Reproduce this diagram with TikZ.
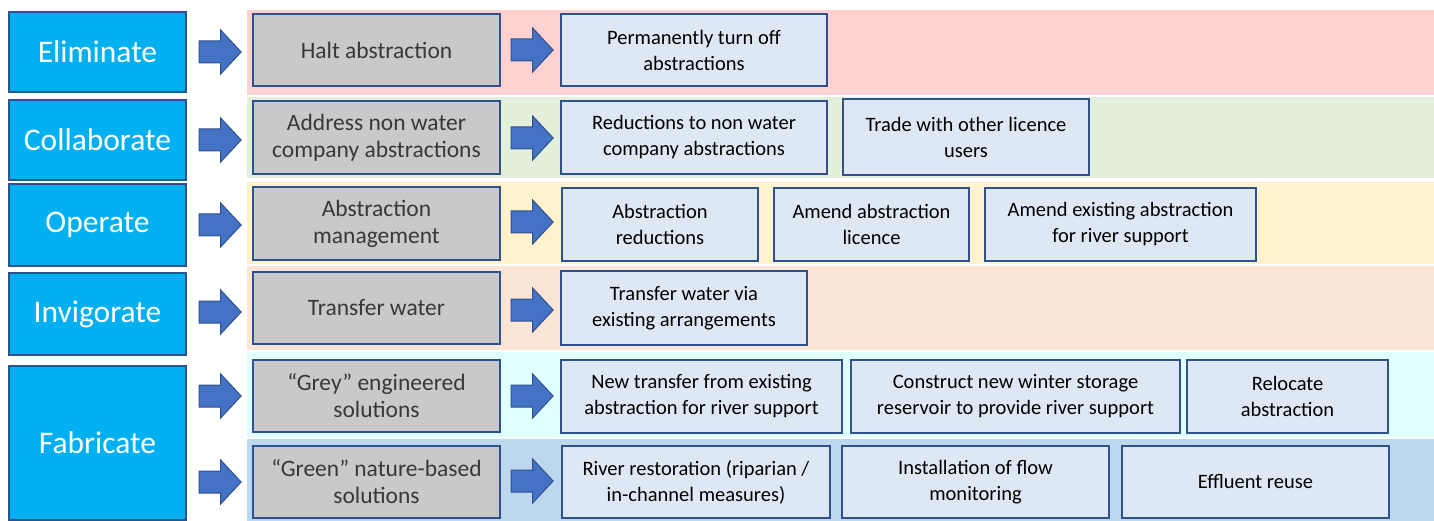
\documentclass[tikz,border=0pt]{standalone}
\usepackage{fontspec}
\setmainfont{Carlito}
\usetikzlibrary{shapes.arrows}
\definecolor{stageblue}{HTML}{00B0F0}
\definecolor{edgeblue}{HTML}{2F528F}
\definecolor{arrowblue}{HTML}{4472C4}
\definecolor{optgrey}{HTML}{C9C9C9}
\definecolor{measfill}{HTML}{DEE8F5}
\definecolor{textgrey}{HTML}{383838}
\definecolor{bandpink}{HTML}{FFD1D1}
\definecolor{bandgreen}{HTML}{E2EFDA}
\definecolor{bandyellow}{HTML}{FFF2CC}
\definecolor{bandpeach}{HTML}{FBE5D6}
\definecolor{bandcyan}{HTML}{E0FFFF}
\definecolor{bandblue}{HTML}{BDD7EE}
\tikzset{
  stage/.style={draw=edgeblue, line width=1.5pt, fill=stageblue, text=white,
    font=\fontsize{31.5}{36}\selectfont, minimum width=177pt, inner sep=0pt},
  option/.style={draw=edgeblue, line width=1.5pt, fill=optgrey, text=textgrey,
    font=\fontsize{23.5}{27}\selectfont, align=center, minimum width=247pt, inner sep=0pt},
  measure/.style={draw=edgeblue, line width=1.5pt, fill=measfill, text=black,
    font=\fontsize{20.5}{26}\selectfont, align=center, inner sep=0pt},
  blockarrow/.style={single arrow, draw=edgeblue, line width=1pt, fill=arrowblue,
    minimum height=42pt, minimum width=43pt, single arrow head extend=11pt,
    single arrow tip angle=94, inner xsep=0pt, inner ysep=10.5pt}
}
\begin{document}
\begin{tikzpicture}[x=1pt,y=-1pt]
\useasboundingbox (0,0) rectangle (1434,521);
% background bands
\fill[bandpink] (247,10) rectangle (1434,95);
\fill[bandgreen] (247,97) rectangle (1434,178);
\fill[bandyellow] (247,182) rectangle (1434,264);
\fill[bandpeach] (247,266) rectangle (1434,350);
\fill[bandcyan] (247,352) rectangle (1434,437);
\fill[bandblue] (247,439) rectangle (1434,521);

% stages
\node[stage, minimum height=80pt] (elim) at (97.5,52) {Eliminate};
\node[stage, minimum height=80pt] (collab) at (97.5,140) {Collaborate};
\node[stage, minimum height=82pt] (oper) at (97.5,225) {Operate};
\node[stage, minimum height=82pt] (invig) at (97.5,314) {Invigorate};
\node[stage, minimum height=154pt] (fabr) at (97.5,443) {Fabricate};

% options
\node[option, minimum height=72pt] (halt) at (376.5,50) {Halt abstraction};
\node[option, minimum height=73pt] (address) at (376.5,137.5) {Address non water\\company abstractions};
\node[option, minimum height=73pt] (mgmt) at (376.5,223.5) {Abstraction\\management};
\node[option, minimum height=72pt] (transfer) at (376.5,308) {Transfer water};
\node[option, minimum height=72pt] (grey) at (376.5,396) {``Grey'' engineered\\solutions};
\node[option, minimum height=72pt] (green) at (376.5,482) {``Green'' nature-based\\solutions};

% arrows stage -> option
\node[blockarrow] (aelim) at (215,52) {};
\node[blockarrow] (acollab) at (215,140) {};
\node[blockarrow] (aoper) at (215,225) {};
\node[blockarrow] (ainvig) at (215,312) {};
\node[blockarrow] (agrey) at (215,396) {};
\node[blockarrow] (agreen) at (215,482) {};

% arrows option -> measures
\node[blockarrow] (bhalt) at (527,50) {};
\node[blockarrow] (baddress) at (527,138) {};
\node[blockarrow] (bmgmt) at (527,222) {};
\node[blockarrow] (btransfer) at (527,310) {};
\node[blockarrow] (bgrey) at (527,396) {};
\node[blockarrow] (bgreen) at (527,481) {};

% measures
\node[measure, minimum width=266pt, minimum height=72pt] (turnoff) at (694,50) {Permanently turn off\\abstractions};
\node[measure, minimum width=266pt, minimum height=73pt] (reduce) at (694,137.5) {Reductions to non water\\company abstractions};
\node[measure, minimum width=246pt, minimum height=76pt] (trade) at (966,137) {Trade with other licence\\users};
\node[measure, minimum width=196pt, minimum height=73pt] (absred) at (660,224.5) {Abstraction\\reductions};
\node[measure, minimum width=195pt, minimum height=73pt] (licence) at (871.5,224.5) {Amend abstraction\\licence};
\node[measure, minimum width=271pt, minimum height=73pt] (amend) at (1120.5,224.5) {Amend existing abstraction\\for river support};
\node[measure, minimum width=246pt, minimum height=74pt] (via) at (684,308) {Transfer water via\\existing arrangements};
\node[measure, minimum width=281pt, minimum height=73pt] (newtr) at (701.5,396.5) {New transfer from existing\\abstraction for river support};
\node[measure, minimum width=329pt, minimum height=73pt] (winter) at (1015.5,396.5) {Construct new winter storage\\reservoir to provide river support};
\node[measure, minimum width=201pt, minimum height=73pt] (relocate) at (1287.5,396.5) {Relocate\\abstraction};
\node[measure, minimum width=268pt, minimum height=72pt] (restore) at (696,482) {River restoration (riparian /\\in-channel measures)};
\node[measure, minimum width=267pt, minimum height=72pt] (flow) at (975.5,482) {Installation of flow\\monitoring};
\node[measure, minimum width=267pt, minimum height=72pt] (effluent) at (1255.5,482) {Effluent reuse};

\end{tikzpicture}
\end{document}
